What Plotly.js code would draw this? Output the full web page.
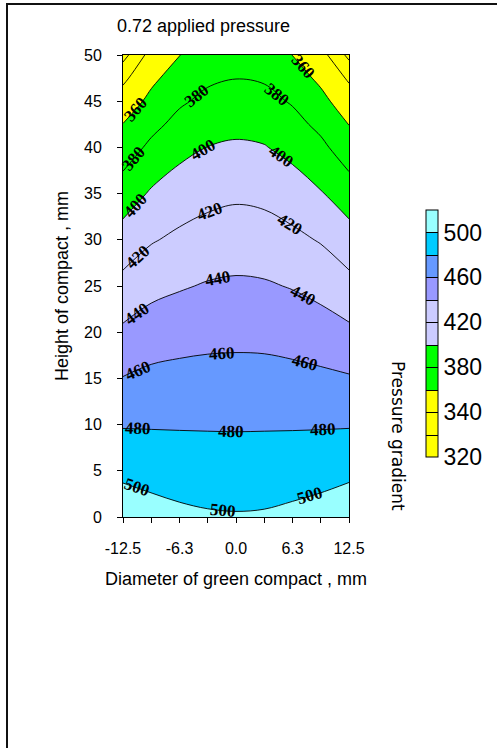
<!DOCTYPE html>
<html>
<head>
<meta charset="utf-8">
<script src="https://cdn.plot.ly/plotly-3.0.1.min.js"></script>
<style>
  html, body { margin: 0; padding: 0; background: #fff; }
  #chart { width: 497px; height: 748px; }
</style>
</head>
<body>
<div id="chart"></div>
<script>
// Diameter positions across the green compact (mm)
const diameterMm = [-12.5, -9.375, -6.25, -3.125, 0, 3.125, 6.25, 9.375, 12.5];
// Heights along the compact (mm)
const heightMm = [0, 2.5, 5, 10, 15, 20, 25, 30, 35, 40, 42.5, 45, 47.5, 50];

// Pressure gradient at each diameter position, listed bottom to top (one array per column)
const pressureAtM12_5 = [512.0, 504.0, 495.5, 478.6, 460.7, 443.4, 426.0, 408.6, 389.6, 369.8, 360.4, 349.3, 335.9, 313.0];
const pressureAtM9_4  = [507.6, 500.3, 493.0, 478.5, 464.5, 449.7, 434.3, 418.4, 402.3, 384.1, 374.5, 364.7, 356.0, 348.0];
const pressureAtM6_3  = [504.1, 497.7, 491.2, 478.4, 465.8, 452.4, 438.3, 424.0, 409.7, 394.5, 385.9, 377.2, 368.6, 359.7];
const pressureAtM3_1  = [502.1, 496.2, 490.2, 478.3, 466.4, 454.2, 441.5, 428.1, 414.4, 400.3, 392.5, 384.7, 376.9, 369.0];
const pressureAt0     = [501.4, 495.6, 489.8, 478.2, 466.6, 454.8, 442.9, 430.1, 416.9, 402.6, 395.1, 387.4, 379.7, 372.0];
const pressureAtP3_1  = [502.0, 496.1, 490.2, 478.3, 466.4, 454.4, 442.0, 428.8, 415.3, 401.0, 393.4, 385.8, 378.0, 370.2];
const pressureAtP6_3  = [504.4, 497.9, 491.4, 478.3, 465.4, 452.3, 438.9, 424.6, 409.7, 394.3, 386.3, 378.2, 369.1, 359.8];
const pressureAtP9_4  = [507.6, 500.3, 493.0, 478.4, 463.8, 449.0, 433.9, 418.6, 401.4, 384.4, 375.3, 365.5, 356.0, 348.0];
const pressureAtP12_5 = [512.8, 504.2, 495.7, 478.6, 461.7, 443.9, 426.1, 408.6, 389.6, 369.4, 359.6, 349.2, 337.4, 315.0];

// Contour levels and band colours (lowest band first, 300-520 in steps of 20)
const levelStart = 320;
const levelEnd = 500;
const levelStep = 20;
const scaleMin = 300;
const scaleMax = 520;
const bandColors = ['#ffff00', '#ffff00', '#ffff00', '#00ff00', '#00ff00',
                    '#ccccff', '#ccccff', '#9999ff', '#6699ff', '#00ccff', '#99ffff'];

// Colour bar labels
const barTickVals = [300, 340, 380, 420, 460, 500];
const barTickText = ['320', '340', '380', '420', '460', '500'];

// X axis ticks (minor positions carry no label)
const xTickVals = diameterMm;
const xTickText = ['-12.5', '', '-6.3', '', '0.0', '', '6.3', '', '12.5'];

// Where along the diameter each contour level gets its inline labels
const labelLevels = [500, 480, 460, 440, 420, 400, 380, 360];
const labelSpotsMm = [
  [-10.9, -1.4, 8.2],
  [-10.8, -0.5, 9.6],
  [-10.8, -1.6, 7.6],
  [-10.9, -2.0, 7.4],
  [-10.8, -2.9, 6.0],
  [-11.1, -3.6, 5.0],
  [-11.3, -4.3, 4.5],
  [-11.1, 7.4]
];

const columns = [pressureAtM12_5, pressureAtM9_4, pressureAtM6_3, pressureAtM3_1, pressureAt0,
                 pressureAtP3_1, pressureAtP6_3, pressureAtP9_4, pressureAtP12_5];
// z[row = height][col = diameter]
const z = heightMm.map((_, r) => columns.map(col => col[r]));

// filled-contour colour map: one stop per band (bands sit at k/10)
const nBands = bandColors.length;
const fillScale = bandColors.map((c, i) => [i / (nBands - 1), c]);
// stepped scale over 300-520 for the colour bar
const stepScale = [];
bandColors.forEach((c, i) => {
  stepScale.push([i / nBands, c]);
  stepScale.push([(i + 1) / nBands, c]);
});

// page geometry (px)
const W = 497, H = 748;
const M = {l: 123, r: 148, t: 55, b: 231};
const PW = W - M.l - M.r, PH = H - M.t - M.b;
const px2x = px => (px - M.l) / PW;
const px2y = py => (H - M.b - py) / PH;
const X_SPAN = 25, Y_SPAN = 50;

// height where a level crosses at diameter xq (bilinear on the grid)
function levelHeightAt(xq, level) {
  let j = 0;
  while (j < diameterMm.length - 2 && xq > diameterMm[j + 1]) j++;
  const t = (xq - diameterMm[j]) / (diameterMm[j + 1] - diameterMm[j]);
  const col = heightMm.map((_, r) => (1 - t) * columns[j][r] + t * columns[j + 1][r]);
  for (let r = 0; r < heightMm.length - 1; r++) {
    const a = col[r], b = col[r + 1];
    if ((a - level) * (b - level) <= 0 && a !== b) {
      return heightMm[r] + (level - a) / (b - a) * (heightMm[r + 1] - heightMm[r]);
    }
  }
  return null;
}

const labelFont = {family: 'Liberation Serif, Times New Roman, serif', size: 17, color: '#000', weight: 'bold'};
const contourLabels = [];
labelLevels.forEach((level, i) => {
  labelSpotsMm[i].forEach(xq => {
    const yq = levelHeightAt(xq, level);
    if (yq === null) return;
    const d = 0.8;
    const ya = levelHeightAt(xq - d, level);
    const yb = levelHeightAt(xq + d, level);
    let ang = 0;
    if (ya !== null && yb !== null) {
      const dyPx = (yb - ya) * PH / Y_SPAN;
      const dxPx = 2 * d * PW / X_SPAN;
      ang = -Math.atan2(dyPx, dxPx) * 180 / Math.PI;
    }
    contourLabels.push({
      text: String(level), x: xq, y: yq, xref: 'x', yref: 'y',
      xanchor: 'center', yanchor: 'middle', textangle: ang,
      showarrow: false, font: labelFont
    });
  });
});

// lower trace: carries the stepped colour bar, hidden under the filled contours
const barTrace = {
  type: 'contour',
  x: diameterMm,
  y: heightMm,
  z: z,
  zmin: scaleMin,
  zmax: scaleMax,
  zauto: false,
  colorscale: stepScale,
  autocontour: false,
  contours: {start: levelStart, end: levelEnd, size: levelStep, coloring: 'heatmap', showlines: true},
  line: {color: '#000', width: 1},
  hoverinfo: 'skip',
  colorbar: {
    thickness: 12,
    thicknessmode: 'pixels',
    len: 247,
    lenmode: 'pixels',
    x: px2x(426),
    xanchor: 'left',
    xpad: 0,
    y: px2y(210),
    yanchor: 'top',
    ypad: 0,
    outlinewidth: 1,
    outlinecolor: '#000',
    tickmode: 'array',
    tickvals: barTickVals,
    ticktext: barTickText,
    ticks: '',
    ticklabelstandoff: 2,
    tickfont: {family: 'Liberation Sans, Arial, sans-serif', size: 23, color: '#000'}
  }
};

// filled contours with black level lines
const mainTrace = {
  type: 'contour',
  x: diameterMm,
  y: heightMm,
  z: z,
  colorscale: fillScale,
  autocontour: false,
  showscale: false,
  contours: {start: levelStart, end: levelEnd, size: levelStep, coloring: 'fill', showlines: true, showlabels: false},
  line: {color: '#000', width: 0.9, smoothing: 1},
  hoverinfo: 'skip'
};

const axisFont = {family: 'Liberation Sans, Arial, sans-serif', size: 16, color: '#000'};
const titleFont = {family: 'Liberation Sans, Arial, sans-serif', size: 18, color: '#000'};

const layout = {
  width: W,
  height: H,
  margin: M,
  paper_bgcolor: '#fff',
  plot_bgcolor: '#fff',
  showlegend: false,
  xaxis: {
    range: [-12.5, 12.5],
    tickmode: 'array',
    tickvals: xTickVals,
    ticktext: xTickText,
    ticks: 'outside',
    ticklen: 5,
    tickwidth: 1,
    tickcolor: '#000',
    ticklabelstandoff: 12,
    showline: true,
    linecolor: '#000',
    linewidth: 1,
    mirror: true,
    showgrid: false,
    zeroline: false,
    tickfont: axisFont,
    title: {text: 'Diameter of green compact , mm', font: titleFont, standoff: 16}
  },
  yaxis: {
    range: [0, 50],
    tickmode: 'linear',
    tick0: 0,
    dtick: 5,
    ticks: 'outside',
    ticklen: 5,
    tickwidth: 1,
    tickcolor: '#000',
    ticklabelstandoff: 12,
    showline: true,
    linecolor: '#000',
    linewidth: 1,
    mirror: true,
    showgrid: false,
    zeroline: false,
    tickfont: axisFont,
    title: {text: 'Height of compact , mm', font: titleFont, standoff: 10}
  },
  annotations: [
    {
      text: '0.72 applied pressure',
      xref: 'paper', yref: 'paper',
      x: px2x(115), y: px2y(26),
      xanchor: 'left', yanchor: 'middle',
      showarrow: false,
      font: titleFont
    },
    {
      text: 'Pressure gradient',
      xref: 'paper', yref: 'paper',
      x: px2x(398), y: px2y(436),
      xanchor: 'center', yanchor: 'middle',
      textangle: 90,
      showarrow: false,
      font: {family: 'DejaVu Sans, sans-serif', size: 17, color: '#000'}
    }
  ].concat(contourLabels),
  shapes: [
    // outer frame: left and top edges
    {type: 'line', xref: 'paper', yref: 'paper', x0: px2x(7), x1: px2x(7), y0: px2y(4), y1: px2y(H + 2),
     line: {color: '#111', width: 2}},
    {type: 'line', xref: 'paper', yref: 'paper', x0: px2x(6), x1: px2x(W + 2), y0: px2y(4), y1: px2y(4),
     line: {color: '#111', width: 2}}
  ]
};

Plotly.newPlot('chart', [barTrace, mainTrace], layout, {displayModeBar: false, staticPlot: true});
</script>
</body>
</html>
